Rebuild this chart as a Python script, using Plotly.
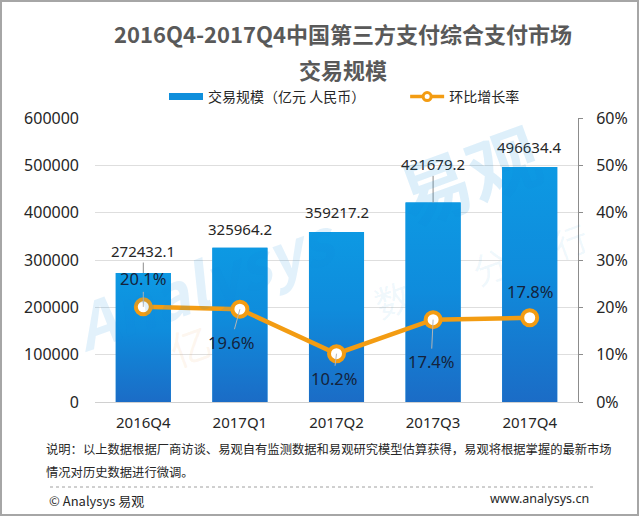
import plotly.graph_objects as go

quarters = ["2016Q4", "2017Q1", "2017Q2", "2017Q3", "2017Q4"]
volume = [272432.1, 325964.2, 359217.2, 421679.2, 496634.4]
growth = [20.1, 19.6, 10.2, 17.4, 17.8]
volume_labels = ["272432.1", "325964.2", "359217.2", "421679.2", "496634.4"]
growth_labels = ["20.1%", "19.6%", "10.2%", "17.4%", "17.8%"]
left_ticks = [0, 100000, 200000, 300000, 400000, 500000, 600000]
right_ticks = [0, 10, 20, 30, 40, 50, 60]
right_tick_labels = ["0%", "10%", "20%", "30%", "40%", "50%", "60%"]

FONT = "Noto Sans, Noto Sans CJK SC, sans-serif"
CJK = "Noto Sans CJK SC, Noto Sans, sans-serif"
TXT = "#262626"
ORANGE = "#f39c12"
BLUE = "#0f8fdc"
idx = list(range(len(quarters)))
half = 0.285
L, R, T, B = 95, 578, 118, 402


def PX(x):
    return (x - L) / (R - L)


def PY(y):
    return (B - y) / (B - T)


fig = go.Figure()
fig.add_trace(go.Bar(x=idx, y=volume, width=half * 2, showlegend=False,
                     marker=dict(color=BLUE, line_width=0)))
for i, v in zip(idx, volume):
    fig.add_trace(go.Scatter(
        x=[i - half, i + half, i + half, i - half, i - half], y=[0, 0, v, v, 0],
        mode="none", fill="toself", showlegend=False, hoverinfo="skip",
        fillgradient=dict(type="vertical", colorscale=[[0, "#1b6cc6"], [0.55, "#0f8cdc"], [1, "#0d99e3"]]),
    ))
fig.add_trace(go.Scatter(x=idx, y=growth, yaxis="y2", mode="lines+markers", showlegend=False,
                         line=dict(color=ORANGE, width=4.5),
                         marker=dict(size=15, color="white", line=dict(color=ORANGE, width=4))))
# legend keys
fig.add_trace(go.Scatter(x=[None], y=[None], mode="lines",
                         name="交易规模（亿元 人民币）\u3000\u3000\u3000",
                         line=dict(color=BLUE, width=7)))
fig.add_trace(go.Scatter(x=[None], y=[None], yaxis="y2", mode="lines+markers", name="环比增长率",
                         line=dict(color=ORANGE, width=3.5),
                         marker=dict(size=8, color="white", line=dict(color=ORANGE, width=3))))

ann = []
vol_off = [(0, -22), (0, -19), (0, -20), (0, -38), (0, -20)]
vol_leader = [True, False, False, True, False]
gro_off = [(0, -28), (-9, 33), (-3, 25), (-2, 42), (0, -26)]
gro_leader = [True, True, True, True, False]
for i, v, t, (dx, dy), s in zip(idx, volume, volume_labels, vol_off, vol_leader):
    ann.append(dict(x=i, y=v, xref="x", yref="y", text=t, showarrow=True, arrowhead=0, arrowwidth=1,
                    arrowcolor="#8c8c8c" if s else "rgba(0,0,0,0)", ax=dx, ay=dy,
                    font=dict(size=15, color=TXT, family=FONT)))
for i, v, t, (dx, dy), s in zip(idx, growth, growth_labels, gro_off, gro_leader):
    ann.append(dict(x=i, y=v, xref="x", yref="y2", text=t, showarrow=True, arrowhead=0, arrowwidth=1,
                    arrowcolor="#b5b5b5" if s else "rgba(0,0,0,0)", ax=dx, ay=dy,
                    font=dict(size=16.5, color="#14233c", family=FONT)))


def paper(text, x, y, size, color=TXT, anchor="left", family=CJK, **kw):
    return dict(text=text, x=PX(x), y=PY(y), xref="paper", yref="paper", xanchor=anchor, yanchor="middle",
                showarrow=False, font=dict(size=size, color=color, family=family), **kw)


ann += [
    paper("<b>交易规模</b>", 343, 69, 22, "#595959", "center"),
    paper("说明：以上数据根据厂商访谈、易观自有监测数据和易观研究模型估算获得，易观将根据掌握的最新市场", 44, 449, 12.3),
    paper("情况对历史数据进行微调。", 44, 472, 12.3),
    paper("© Analysys 易观", 47, 500, 13),
    paper("www.analysys.cn", 591, 498, 12.5, anchor="right", family=FONT),
]
for t, x, y, s, c, r in [("<b>易观</b>", 468, 172, 72, "rgba(15,143,220,0.14)", -20),
                         ("<b><i>Analysys</i></b>", 205, 280, 62, "rgba(15,143,220,0.12)", -20),
                         ("数", 392, 298, 36, "rgba(15,143,220,0.08)", -20),
                         ("亿", 190, 345, 40, "rgba(240,160,90,0.10)", -20),
                         ("分", 490, 265, 36, "rgba(15,143,220,0.07)", -20),
                         ("行", 570, 240, 34, "rgba(15,143,220,0.07)", -20)]:
    ann.append(paper(t, x, y, s, c, "center", textangle=r))

shapes = [
    dict(type="rect", xref="paper", yref="paper", x0=PX(1), x1=PX(638), y0=PY(515), y1=PY(1),
         line=dict(color="#a6a6a6", width=2), layer="below"),
    dict(type="line", xref="paper", yref="paper", x0=PX(50), x1=PX(595), y0=PY(487), y1=PY(487),
         line=dict(color="#a0a0a0", width=1, dash="dot")),
]

fig.update_layout(
    width=640, height=517, autosize=False,
    margin=dict(l=L, r=640 - R, t=T, b=517 - B, autoexpand=False),
    paper_bgcolor="white", plot_bgcolor="rgba(0,0,0,0)",
    font=dict(family=FONT, color=TXT),
    title=dict(text="<b>2016Q4-2017Q4中国第三方支付综合支付市场</b>", x=343 / 640, xanchor="center",
               y=1 - 35 / 517, yanchor="middle", font=dict(size=22, color="#595959", family=CJK)),
    legend=dict(orientation="h", x=PX(164), y=PY(97), xanchor="left", yanchor="middle",
                font=dict(size=14, color=TXT, family=CJK), itemwidth=34, bgcolor="rgba(0,0,0,0)"),
    showlegend=True,
    xaxis=dict(range=[-0.5, 4.5], tickvals=idx, ticktext=quarters, showgrid=False, zeroline=False,
               showline=True, linecolor="#d0d0d0", linewidth=1, ticks="", tickfont=dict(size=15, color=TXT),
               ticklabelstandoff=7),
    yaxis=dict(range=[0, 600000], tickvals=left_ticks, tickformat="d", gridcolor="#dedede", gridwidth=1.3,
               zeroline=False, showline=False, ticks="", tickfont=dict(size=16, color=TXT), ticklabelstandoff=15),
    yaxis2=dict(range=[0, 60], tickvals=right_ticks, ticktext=right_tick_labels, overlaying="y", side="right",
                showgrid=False, zeroline=False, showline=True, linecolor="#8c8c8c", linewidth=1, ticks="outside",
                ticklen=4, tickcolor="#8c8c8c", tickfont=dict(size=16, color=TXT), ticklabelstandoff=10),
    annotations=ann, shapes=shapes,
)
fig.write_html("out.html", config=dict(displayModeBar=False),
               post_script="document.body.style.margin='0';document.documentElement.style.overflow='hidden';")
